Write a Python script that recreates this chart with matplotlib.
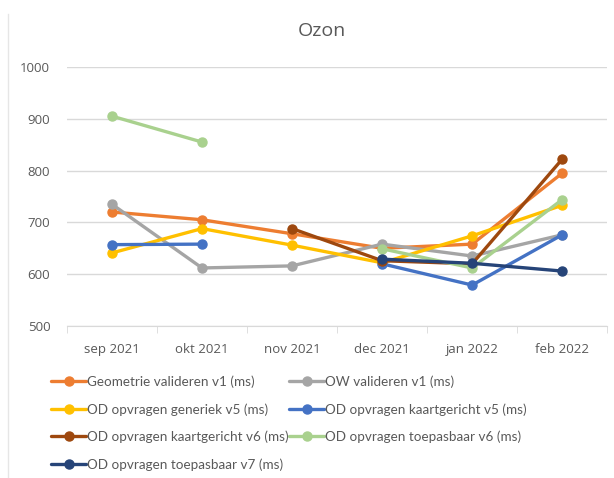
import numpy as np
import matplotlib.pyplot as plt
from matplotlib.lines import Line2D

months = ['sep 2021', 'okt 2021', 'nov 2021', 'dec 2021', 'jan 2022', 'feb 2022']
nan = np.nan

geometrie_v1 = [720, 705, 678, 650, 658, 795]
ow_v1 = [735, 612, 616, 658, 635, 676]
generiek_v5 = [641, 688, 656, 622, 674, 733]
kaartgericht_v5 = [657, 658, nan, 620, 579, 676]
kaartgericht_v6 = [nan, nan, 688, 626, 620, 822]
toepasbaar_v6 = [905, 855, nan, 649, 612, 744]
toepasbaar_v7 = [nan, nan, nan, 629, 621, 606]

series = [
    ('Geometrie valideren v1 (ms)', geometrie_v1, '#ED7D31'),
    ('OW valideren v1 (ms)', ow_v1, '#A5A5A5'),
    ('OD opvragen generiek v5 (ms)', generiek_v5, '#FFC000'),
    ('OD opvragen kaartgericht v5 (ms)', kaartgericht_v5, '#4472C4'),
    ('OD opvragen kaartgericht v6 (ms)', kaartgericht_v6, '#9E480E'),
    ('OD opvragen toepasbaar v6 (ms)', toepasbaar_v6, '#A9D18E'),
    ('OD opvragen toepasbaar v7 (ms)', toepasbaar_v7, '#264478'),
]

plt.rcParams['font.family'] = ['Open Sans', 'DejaVu Sans']

fig = plt.figure(figsize=(6.14, 4.78), dpi=100)
ax = fig.add_axes([0.109, 0.318, 0.88, 0.542])

x = np.arange(len(months))
handles = []
for name, vals, color in series:
    h, = ax.plot(x, vals, '-o', color=color, lw=2.4, ms=6.5, label=name,
                 solid_capstyle='round', zorder=3)
    handles.append(h)

ax.set_xlim(-0.5, len(months) - 0.5)
ax.set_ylim(500, 1000)
ax.set_yticks(np.arange(500, 1001, 100))
ax.yaxis.grid(True, color='#D9D9D9', lw=1)
ax.set_axisbelow(True)

for s in ['top', 'right', 'left']:
    ax.spines[s].set_visible(False)
ax.spines['bottom'].set_color('#D9D9D9')

ax.set_xticks(x)
ax.set_xticklabels(months)
ax.set_xticks(np.arange(-0.5, len(months)), minor=True)
ax.tick_params(axis='x', which='major', length=0, pad=12, labelsize=9.5, labelcolor='#595959')
ax.tick_params(axis='x', which='minor', length=5, color='#D9D9D9')
ax.tick_params(axis='y', length=0, pad=12, labelsize=9.5, labelcolor='#595959')

fig.text(0.525, 0.935, 'Ozon', ha='center', va='center', fontsize=14, color='#595959')

# row-major legend order
order = [0, 2, 4, 6, 1, 3, 5]
leg = fig.legend([handles[i] for i in order], [series[i][0] for i in order],
                 ncol=2, loc='upper left', bbox_to_anchor=(0.075, 0.226),
                 frameon=False, prop={'family': 'Lato', 'size': 9.7},
                 handlelength=2.6, handletextpad=0.05,
                 columnspacing=0.05, labelspacing=1.12, borderaxespad=0)
for t in leg.get_texts():
    t.set_color('#595959')

fig.add_artist(Line2D([0.013, 0.013], [0, 0.97], color='#E6E6E6', lw=1))

fig.savefig('out.png', dpi=100)
